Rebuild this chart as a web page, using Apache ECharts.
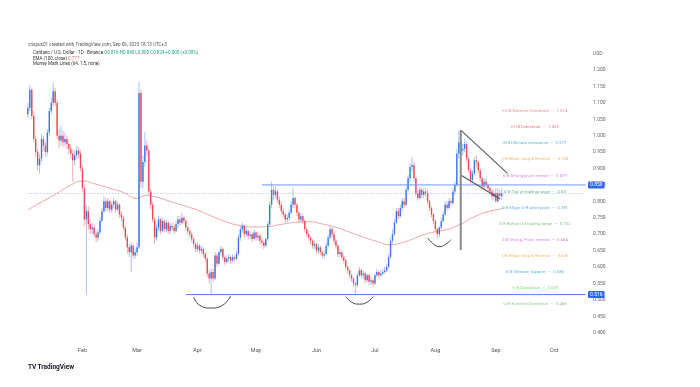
<!DOCTYPE html>
<html><head><meta charset="utf-8">
<script src="https://cdn.jsdelivr.net/npm/echarts@6/dist/echarts.min.js"></script>
<style>html,body{margin:0;padding:0;background:#fff}#c{width:700px;height:387px}</style>
</head><body><div id="c"></div>
<script>
// ---- categories (daily, Jan 4 2025 .. Oct 17 2025) ----
const firstDay = '2025-01-04';
const lastDay = '2025-10-17';
const monthNames = ['Jan','Feb','Mar','Apr','May','Jun','Jul','Aug','Sep','Oct','Nov','Dec'];

// ---- daily candles [open, close, low, high], starting at firstDay ----
const ohlc = [
[1.065,1.085,1.055,1.10],[1.085,1.14,1.075,1.155],[1.14,1.06,1.05,1.145],[1.06,0.99,0.98,1.075],
[0.99,0.95,0.935,1.00],[0.95,0.91,0.895,0.96],[0.91,0.93,0.885,0.945],[0.93,0.99,0.92,1.005],
[0.99,0.97,0.955,1.00],[0.97,0.95,0.935,0.98],[0.95,1.01,0.94,1.02],[1.01,1.075,1.0,1.085],
[1.075,1.10,1.065,1.115],[1.10,1.135,1.09,1.16],[1.135,1.10,1.09,1.145],[1.10,1.00,0.99,1.11],
[1.00,0.985,0.96,1.02],[0.985,1.00,0.97,1.03],[1.00,0.98,0.965,1.015],[0.98,0.99,0.97,1.01],
[0.99,0.975,0.96,1.0],[0.975,0.96,0.945,0.985],[0.96,0.945,0.93,0.975],[0.945,0.925,0.86,0.955],
[0.925,0.94,0.91,0.955],[0.94,0.955,0.93,0.97],[0.955,0.945,0.93,0.965],[0.945,0.90,0.89,0.955],
[0.90,0.84,0.83,0.91],[0.84,0.745,0.725,0.85],[0.745,0.77,0.515,0.79],[0.77,0.73,0.715,0.785],
[0.73,0.715,0.70,0.745],[0.715,0.72,0.70,0.735],[0.72,0.70,0.69,0.73],[0.70,0.69,0.675,0.71],
[0.69,0.705,0.68,0.715],[0.705,0.74,0.70,0.75],[0.74,0.77,0.735,0.78],[0.77,0.80,0.765,0.815],
[0.80,0.78,0.77,0.81],[0.78,0.80,0.77,0.81],[0.80,0.775,0.765,0.805],[0.775,0.79,0.765,0.80],
[0.79,0.80,0.78,0.81],[0.80,0.775,0.765,0.805],[0.775,0.79,0.77,0.80],[0.79,0.76,0.75,0.795],
[0.76,0.75,0.74,0.77],[0.75,0.72,0.71,0.755],[0.72,0.69,0.68,0.725],[0.69,0.66,0.64,0.70],
[0.66,0.645,0.63,0.67],[0.645,0.665,0.585,0.675],[0.665,0.635,0.625,0.67],[0.635,0.645,0.625,0.655],
[0.645,0.66,0.635,0.675],[0.66,1.13,0.655,1.165],[1.13,0.86,0.84,1.14],[0.86,0.92,0.84,0.94],
[0.92,0.97,0.905,1.01],[0.97,0.955,0.94,0.985],[0.955,0.83,0.82,0.96],[0.83,0.79,0.775,0.84],
[0.79,0.745,0.735,0.80],[0.745,0.69,0.67,0.75],[0.69,0.72,0.68,0.73],[0.72,0.745,0.71,0.755],
[0.745,0.71,0.70,0.75],[0.71,0.74,0.705,0.75],[0.74,0.715,0.705,0.745],[0.715,0.735,0.705,0.745],
[0.735,0.71,0.70,0.74],[0.71,0.725,0.70,0.735],[0.725,0.72,0.71,0.735],[0.72,0.71,0.70,0.73],
[0.71,0.73,0.705,0.74],[0.73,0.745,0.72,0.755],[0.745,0.735,0.725,0.755],[0.735,0.75,0.73,0.765],
[0.75,0.74,0.73,0.755],[0.74,0.72,0.71,0.745],[0.72,0.71,0.70,0.725],[0.71,0.70,0.69,0.715],
[0.70,0.685,0.675,0.705],[0.685,0.67,0.66,0.69],[0.67,0.655,0.645,0.675],[0.655,0.665,0.645,0.675],
[0.665,0.65,0.64,0.67],[0.65,0.655,0.64,0.665],[0.655,0.64,0.63,0.66],[0.64,0.625,0.615,0.645],
[0.625,0.58,0.57,0.63],[0.58,0.565,0.55,0.59],[0.565,0.585,0.515,0.595],[0.585,0.565,0.555,0.595],
[0.565,0.635,0.56,0.645],[0.635,0.61,0.60,0.64],[0.61,0.645,0.605,0.65],[0.645,0.655,0.635,0.665],
[0.655,0.63,0.62,0.66],[0.63,0.615,0.605,0.635],[0.615,0.625,0.61,0.635],[0.625,0.63,0.615,0.64],
[0.63,0.62,0.61,0.635],[0.62,0.63,0.615,0.64],[0.63,0.625,0.615,0.635],[0.625,0.64,0.62,0.65],
[0.64,0.69,0.635,0.70],[0.69,0.715,0.68,0.725],[0.715,0.725,0.705,0.735],[0.725,0.70,0.69,0.73],
[0.70,0.71,0.69,0.72],[0.71,0.695,0.685,0.715],[0.695,0.70,0.685,0.71],[0.70,0.685,0.675,0.705],
[0.685,0.705,0.68,0.715],[0.705,0.69,0.68,0.71],[0.69,0.695,0.68,0.705],[0.695,0.68,0.67,0.70],
[0.68,0.675,0.665,0.69],[0.675,0.665,0.655,0.68],[0.665,0.685,0.66,0.69],[0.685,0.73,0.68,0.74],
[0.73,0.79,0.725,0.80],[0.79,0.835,0.78,0.86],[0.835,0.82,0.805,0.845],[0.82,0.83,0.81,0.845],
[0.83,0.805,0.795,0.835],[0.805,0.79,0.78,0.815],[0.79,0.77,0.76,0.80],[0.77,0.76,0.75,0.78],
[0.76,0.745,0.735,0.765],[0.745,0.75,0.735,0.76],[0.75,0.765,0.74,0.775],[0.765,0.79,0.76,0.80],
[0.79,0.81,0.78,0.84],[0.81,0.79,0.78,0.815],[0.79,0.765,0.755,0.795],[0.765,0.745,0.735,0.77],
[0.745,0.755,0.735,0.765],[0.755,0.74,0.73,0.76],[0.74,0.715,0.705,0.745],[0.715,0.70,0.69,0.72],
[0.70,0.69,0.68,0.71],[0.69,0.68,0.67,0.695],[0.68,0.665,0.655,0.685],[0.665,0.67,0.655,0.68],
[0.67,0.65,0.64,0.675],[0.65,0.66,0.64,0.67],[0.66,0.645,0.635,0.665],[0.645,0.635,0.625,0.65],
[0.635,0.64,0.625,0.65],[0.64,0.665,0.635,0.675],[0.665,0.69,0.66,0.70],[0.69,0.715,0.685,0.725],
[0.715,0.70,0.69,0.72],[0.70,0.68,0.67,0.705],[0.68,0.665,0.655,0.685],[0.665,0.64,0.63,0.67],
[0.64,0.645,0.63,0.655],[0.645,0.63,0.62,0.65],[0.63,0.62,0.61,0.635],[0.62,0.60,0.59,0.625],
[0.60,0.59,0.58,0.605],[0.59,0.575,0.565,0.595],[0.575,0.565,0.555,0.58],[0.565,0.55,0.54,0.57],
[0.55,0.545,0.515,0.555],[0.545,0.575,0.54,0.58],[0.575,0.59,0.57,0.60],[0.59,0.575,0.565,0.595],
[0.575,0.58,0.565,0.59],[0.58,0.56,0.55,0.585],[0.56,0.575,0.555,0.58],[0.575,0.555,0.545,0.58],
[0.555,0.56,0.545,0.57],[0.56,0.55,0.54,0.565],[0.55,0.575,0.545,0.58],[0.575,0.585,0.57,0.595],
[0.585,0.575,0.565,0.59],[0.575,0.58,0.57,0.59],[0.58,0.585,0.575,0.595],[0.585,0.59,0.58,0.60],
[0.59,0.60,0.585,0.61],[0.60,0.63,0.595,0.64],[0.63,0.68,0.625,0.69],[0.68,0.70,0.67,0.715],
[0.70,0.735,0.695,0.745],[0.735,0.77,0.73,0.78],[0.77,0.755,0.745,0.78],[0.755,0.78,0.75,0.79],
[0.78,0.80,0.77,0.81],[0.80,0.79,0.78,0.81],[0.79,0.835,0.785,0.845],[0.835,0.87,0.83,0.88],
[0.87,0.905,0.86,0.915],[0.905,0.91,0.89,0.935],[0.91,0.87,0.86,0.92],[0.87,0.825,0.815,0.875],
[0.825,0.81,0.80,0.835],[0.81,0.835,0.805,0.845],[0.835,0.82,0.81,0.84],[0.82,0.83,0.81,0.84],
[0.83,0.825,0.815,0.84],[0.825,0.80,0.79,0.835],[0.80,0.78,0.77,0.805],[0.78,0.76,0.75,0.785],
[0.76,0.74,0.73,0.765],[0.74,0.715,0.705,0.745],[0.715,0.70,0.685,0.72],[0.70,0.72,0.69,0.725],
[0.72,0.74,0.715,0.75],[0.74,0.76,0.735,0.77],[0.76,0.79,0.755,0.80],[0.79,0.78,0.77,0.80],
[0.78,0.80,0.775,0.81],[0.80,0.795,0.785,0.81],[0.795,0.83,0.79,0.84],[0.83,0.85,0.82,0.86],
[0.85,0.945,0.845,0.96],[0.945,0.98,0.93,1.015],[0.98,0.955,0.93,1.01],[0.955,0.96,0.94,0.975],
[0.96,0.975,0.95,0.99],[0.975,0.93,0.92,0.98],[0.93,0.895,0.885,0.935],[0.895,0.865,0.855,0.90],
[0.865,0.885,0.855,0.895],[0.885,0.925,0.88,0.935],[0.925,0.92,0.905,0.94],[0.92,0.895,0.885,0.925],
[0.895,0.87,0.86,0.90],[0.87,0.845,0.835,0.875],[0.845,0.86,0.835,0.87],[0.86,0.85,0.84,0.87],
[0.85,0.84,0.83,0.855],[0.84,0.83,0.82,0.845],[0.83,0.815,0.805,0.835],[0.815,0.825,0.805,0.835],
[0.825,0.80,0.795,0.84],[0.80,0.825,0.795,0.84],[0.825,0.816,0.805,0.835],[0.816,0.824,0.805,0.84]
];

// ---- EMA(100) ----
const emaPoints = [
['2025-01-04',0.774],['2025-01-11',0.798],['2025-01-18',0.821],['2025-01-25',0.846],['2025-02-01',0.862],
['2025-02-08',0.852],['2025-02-15',0.840],['2025-02-22',0.827],['2025-03-01',0.809],['2025-03-05',0.818],
['2025-03-12',0.811],['2025-03-19',0.798],['2025-03-26',0.785],['2025-04-02',0.771],['2025-04-09',0.753],
['2025-04-16',0.737],['2025-04-23',0.726],['2025-04-30',0.722],['2025-05-07',0.723],['2025-05-14',0.730],
['2025-05-21',0.736],['2025-05-28',0.738],['2025-06-04',0.731],['2025-06-11',0.721],['2025-06-18',0.706],
['2025-06-25',0.691],['2025-07-02',0.678],['2025-07-09',0.668],['2025-07-16',0.676],['2025-07-23',0.692],
['2025-07-30',0.705],['2025-08-06',0.713],['2025-08-13',0.728],['2025-08-20',0.750],['2025-08-27',0.767],
['2025-09-04',0.777]
];

// ---- Murrey Math levels ----
const murreyLevels = [1.0742,1.0254,0.9766,0.9277,0.8789,0.8301,0.7813,0.7324,0.6836,0.6348,0.5859,0.5371,0.4883];
const murreyNames = ['+2/8 Extreme Overshoot','+1/8 Overshoot','8/8 Ultimate resistance','7/8 Weak, Stop & Reverse',
 '6/8 Strong pivot reverse','5/8 Top of trading range','4/8 Major S/R pivot point','3/8 Bottom of trading range',
 '2/8 Strong, Pivot, reverse','1/8 Weak, Stop & Reverse','0/8 Ultimate Support','-1/8 Overshoot','-2/8 Extreme Overshoot'];
const murreyColors = ['#ef6b6b','#ef5350','#2ea3cf','#f3a33a','#cc5ce0','#4caf50','#3d98de','#5fb563','#cc5ce0','#f3a33a','#2ea3cf','#6dbd70','#6dbd70'];
const murreyLabelDay = '2025-09-21';

// ---- drawn annotations ----
const resistanceLine = [['2025-05-04',0.850],['2025-10-17',0.850]];
const supportLine = [['2025-03-26',0.516],['2025-10-17',0.516]];
const lastPriceLine = [['2025-01-04',0.824],['2025-10-17',0.824]];
const upperTrend = [['2025-08-14',1.017],['2025-09-07',0.885]];
const lowerTrend = [['2025-08-14',0.880],['2025-09-03',0.808]];
const verticalMark = [['2025-08-14',1.017],['2025-08-14',0.652]];
const arc1 = [['2025-03-30',0.509],['2025-04-02',0.484],['2025-04-08',0.475],['2025-04-14',0.484],['2025-04-18',0.512]];
const arc2 = [['2025-06-16',0.510],['2025-06-19',0.493],['2025-06-23',0.487],['2025-06-27',0.493],['2025-06-30',0.510]];
const arc3 = [['2025-07-28',0.689],['2025-07-31',0.670],['2025-08-03',0.662],['2025-08-06',0.668],['2025-08-09',0.683]];

const cats = [];
for (let t = Date.parse(firstDay + 'T00:00:00Z'); t <= Date.parse(lastDay + 'T00:00:00Z'); t += 86400000) {
  cats.push(new Date(t).toISOString().slice(0, 10));
}

const UP = '#3a76e6', DOWN = '#ee4757';
const FONT = 'Roboto, "Liberation Sans", sans-serif';
const chart = echarts.init(document.getElementById('c'), null, {renderer: 'canvas'});

function lineSeries(data, color, width, extra) {
  return Object.assign({type: 'line', data: data, symbol: 'none', silent: true,
    lineStyle: {color: color, width: width}, z: 3}, extra || {});
}
function priceTag(text) {
  return {show: true, formatter: text, color: '#fff', backgroundColor: '#2f66f0', fontSize: 5,
    fontFamily: FONT, padding: [1.2, 2, 0.8, 2], borderRadius: 1, distance: 2.5};
}
function headerText(x, y, text, rich) {
  return {type: 'text', x: x, y: y, silent: true,
    style: {text: text, rich: rich, verticalAlign: 'middle', fontSize: 4.5, fontFamily: FONT, fill: '#333'}};
}

chart.setOption({
  animation: false,
  backgroundColor: '#ffffff',
  graphic: [
    headerText(28, 44.5, '{m|crispus01 created with TradingView.com, Sep 06, 2025 18:13 UTC+3}',
      {m: {fontSize: 4.6, fill: '#555', fontFamily: FONT}}),
    headerText(33, 53, '{a|Cardano / U.S. Dollar · 1D · Binance} {g|O0.816 H0.840 L0.805 C0.824 +0.008 (+0.98%)}',
      {a: {fontSize: 4.5, fill: '#333', fontFamily: FONT}, g: {fontSize: 4.5, fill: '#22a08f', fontFamily: FONT}}),
    headerText(33, 58.5, '{a|EMA (100, close)} {r|0.777}',
      {a: {fontSize: 4.5, fill: '#333', fontFamily: FONT}, r: {fontSize: 4.5, fill: '#f2727a', fontFamily: FONT}}),
    headerText(33, 63.8, '{a|Murrey Math Lines (64, 1.5, none)}',
      {a: {fontSize: 4.5, fill: '#333', fontFamily: FONT}}),
    headerText(28, 367.5, '{i|TV} {t|TradingView}',
      {i: {fontSize: 6.5, fontWeight: 'bold', fill: '#131722', fontFamily: FONT},
       t: {fontSize: 6.5, fontWeight: 'bold', fill: '#131722', fontFamily: FONT}})
  ],
  grid: {left: 26.9, right: 113.5, top: 53.6, bottom: 37.9},
  xAxis: {
    type: 'category', data: cats, boundaryGap: true,
    axisLine: {show: false}, axisTick: {show: false}, splitLine: {show: false},
    axisLabel: {
      interval: function (i, v) { return v.slice(8) === '01'; },
      formatter: function (v) { return monthNames[+v.slice(5, 7) - 1]; },
      fontSize: 5.5, color: '#555', fontFamily: FONT, margin: 1.4, verticalAlign: 'middle'
    }
  },
  yAxis: {
    type: 'value', position: 'right', min: 0.35, max: 1.25, interval: 0.05,
    axisLine: {show: false}, axisTick: {show: false}, splitLine: {show: false},
    axisLabel: {
      margin: 6.5, fontSize: 5, color: '#666', fontFamily: FONT,
      formatter: function (v) { return v > 1.24 ? 'USD' : (v < 0.39 ? '' : v.toFixed(3)); }
    }
  },
  series: [
    lineSeries(lastPriceLine, '#a9c0ec', 0.8, {lineStyle: {color: '#a9c0ec', width: 0.8, type: [1.5, 1.5]}, z: 1}),
    lineSeries(emaPoints, '#f3a4a4', 1, {smooth: true, z: 2}),
    {
      type: 'custom', z: 4, silent: true,
      data: ohlc.map(function (r, i) { return [i, r[0], r[1], r[2], r[3]]; }),
      encode: {x: 0, y: [1, 2, 3, 4]},
      renderItem: function (params, api) {
        const i = api.value(0), o = api.value(1), c = api.value(2), l = api.value(3), h = api.value(4);
        const pO = api.coord([i, o]), pC = api.coord([i, c]);
        const pL = api.coord([i, l]), pH = api.coord([i, h]);
        const w = api.size([1, 0])[0] * 0.72;
        const col = c >= o ? UP : DOWN;
        const top = Math.min(pO[1], pC[1]);
        const hgt = Math.max(Math.abs(pO[1] - pC[1]), 0.8);
        return {type: 'group', children: [
          {type: 'line', shape: {x1: pL[0], y1: pL[1], x2: pH[0], y2: pH[1]}, style: {stroke: col, lineWidth: 0.6, opacity: 0.75}},
          {type: 'rect', shape: {x: pO[0] - w / 2, y: top, width: w, height: hgt}, style: {fill: col}}
        ]};
      }
    },
    lineSeries(resistanceLine, '#6f98ee', 1, {endLabel: priceTag('0.850'), z: 5}),
    lineSeries(supportLine, '#4f7fea', 1, {endLabel: priceTag('0.516'), z: 5}),
    lineSeries(upperTrend, '#555', 1.1, {z: 6}),
    lineSeries(lowerTrend, '#555', 1.1, {z: 6}),
    lineSeries(verticalMark, '#8a8a8a', 2, {z: 6}),
    lineSeries(arc1, '#444', 1, {smooth: true, z: 6}),
    lineSeries(arc2, '#444', 1, {smooth: true, z: 6}),
    lineSeries(arc3, '#444', 1, {smooth: true, z: 6}),
    {
      type: 'scatter', symbolSize: 0, silent: true, z: 7,
      data: murreyLevels.map(function (v, i) {
        return {value: [murreyLabelDay, v], label: {color: murreyColors[i]}};
      }),
      label: {
        show: true, position: 'inside', fontSize: 4.3, fontFamily: FONT,
        formatter: function (p) { return murreyNames[p.dataIndex] + '  —  ' + String(+p.value[1].toFixed(3)); }
      }
    }
  ]
});
</script>
</body></html>
